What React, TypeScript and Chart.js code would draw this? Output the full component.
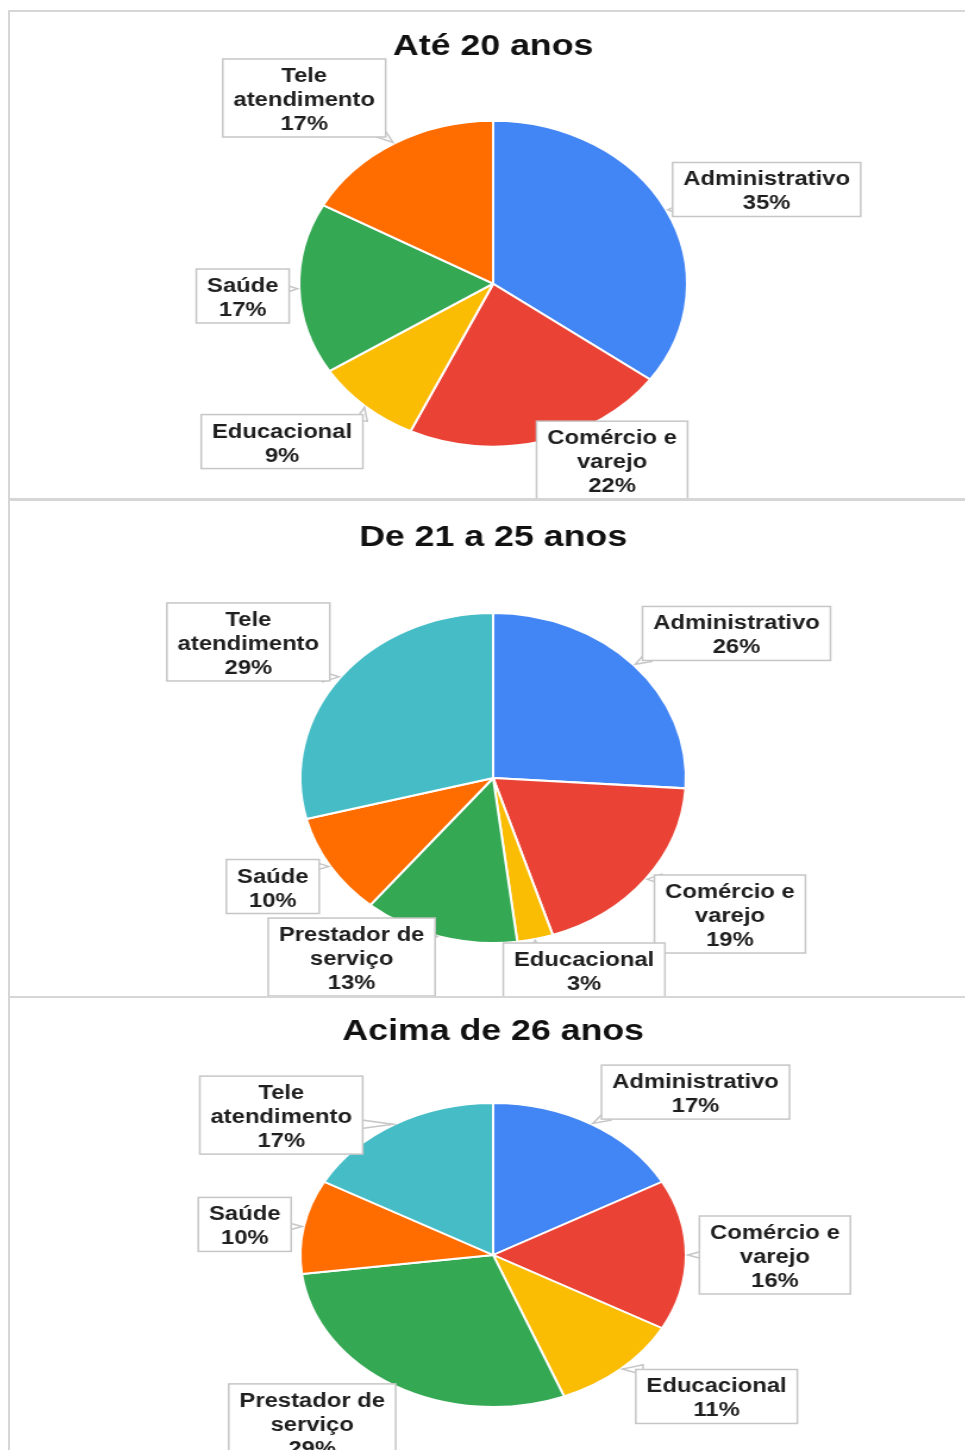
import React, { useEffect, useRef } from "react";
import { Chart, registerables } from "chart.js";

Chart.register(...registerables);

// ---------- data ----------
const TITLE_1 = "Até 20 anos";
const CATEGORIES_1 = ["Administrativo", "Comércio e varejo", "Educacional", "Saúde", "Tele atendimento"];
const VALUES_1 = [35, 22, 9, 17, 17];

const TITLE_2 = "De 21 a 25 anos";
const CATEGORIES_2 = ["Administrativo", "Comércio e varejo", "Educacional", "Prestador de serviço", "Saúde", "Tele atendimento"];
const VALUES_2 = [26, 19, 3, 13, 10, 29];

const TITLE_3 = "Acima de 26 anos";
const CATEGORIES_3 = ["Administrativo", "Comércio e varejo", "Educacional", "Prestador de serviço", "Saúde", "Tele atendimento"];
const VALUES_3 = [17, 16, 11, 29, 10, 17];

// ---------- styles ----------
const COLORS_1 = ["#4285F4", "#EA4335", "#FBBC04", "#34A853", "#FF6D01"];
const COLORS_2 = ["#4285F4", "#EA4335", "#FBBC04", "#34A853", "#FF6D01", "#46BDC6"];
const COLORS_3 = ["#4285F4", "#EA4335", "#FBBC04", "#34A853", "#FF6D01", "#46BDC6"];

const LINE_BREAKS: Record<string, string[]> = {
  "Comércio e varejo": ["Comércio e", "varejo"],
  "Tele atendimento": ["Tele", "atendimento"],
  "Prestador de serviço": ["Prestador de", "serviço"],
};

const FONT = '"Liberation Sans", Arial, Helvetica, sans-serif';
const STRETCH_X = 1.19;
const INNER_W = 802;

// callout box offsets (box centre relative to slice anchor)
const OFFSETS_1: [number, number][] = [[84.6, -20.2], [59.4, 18.6], [-69.6, 35.6], [-47.5, 7.2], [-75.8, -45.4]];
const OFFSETS_2: [number, number][] = [[86.4, -31.6], [71, 34.9], [41.1, 31], [-73.7, 20.6], [-48.4, 20.1], [-77.7, -34.9]];
const OFFSETS_3: [number, number][] = [[87.6, -32.1], [74.8, 0], [80.6, 27.5], [-69.6, 37.1], [-49.6, -2.1], [-95.6, -9.1]];

const ellipsePlugin = {
  id: "ellipse",
  beforeDatasetsDraw(chart: any, _a: any, opts: any) {
    const arc = chart.getDatasetMeta(0).data[0];
    const ctx = chart.ctx;
    ctx.save();
    if (!arc) return;
    ctx.translate(arc.x, arc.y);
    ctx.scale(1, opts.ky);
    ctx.translate(-arc.x, -arc.y);
  },
  afterDatasetsDraw(chart: any) {
    chart.ctx.restore();
  },
};

const calloutPlugin = {
  id: "callouts",
  afterDraw(chart: any, _a: any, opts: any) {
    const ctx = chart.ctx;
    const meta = chart.getDatasetMeta(0);
    const labels = chart.data.labels as string[];
    const values = chart.data.datasets[0].data as number[];
    const ky = opts.ky;
    ctx.save();
    ctx.font = `bold 20px ${FONT}`;
    meta.data.forEach((arc: any, i: number) => {
      const p = arc.getProps(["x", "y", "startAngle", "endAngle", "outerRadius"], true);
      const mid = (p.startAngle + p.endAngle) / 2;
      const ax = p.x + p.outerRadius * Math.cos(mid);
      const ay = p.y + p.outerRadius * ky * Math.sin(mid);
      const label = labels[i];
      const lines = [...(LINE_BREAKS[label] ?? [label]), `${values[i]}%`];
      const tw = Math.max(...lines.map((l) => ctx.measureText(l).width));
      const w = tw + 18;
      const h = lines.length * 24 + 6;
      const [dx, dy] = opts.offsets[i] || [0, 0];
      const cx = ax + dx;
      const cy = ay + dy;
      const left = cx - w / 2;
      const top = cy - h / 2;
      const inside = ax > left && ax < left + w && ay > top && ay < top + h;
      ctx.lineWidth = 1.5;
      ctx.strokeStyle = "#c6c6c6";
      ctx.fillStyle = "#ffffff";
      if (!inside) {
        const px = Math.min(Math.max(ax, left), left + w);
        const py = Math.min(Math.max(ay, top), top + h);
        let vx = ax - px;
        let vy = ay - py;
        const len = Math.hypot(vx, vy) || 1;
        vx /= len;
        vy /= len;
        const nx = -vy;
        const ny = vx;
        const bx = px - vx * 6;
        const by = py - vy * 6;
        ctx.beginPath();
        ctx.moveTo(bx + nx * 5, by + ny * 5);
        ctx.lineTo(ax - vx * 1.5, ay - vy * 1.5);
        ctx.lineTo(bx - nx * 5, by - ny * 5);
        ctx.closePath();
        ctx.fill();
        ctx.stroke();
      }
      ctx.fillStyle = "#ffffff";
      ctx.fillRect(left, top, w, h);
      ctx.strokeRect(left, top, w, h);
      ctx.fillStyle = "#1f1f1f";
      ctx.textAlign = "center";
      ctx.textBaseline = "alphabetic";
      lines.forEach((l, j) => {
        ctx.fillText(l, cx, top + 23 + j * 24);
      });
    });
    ctx.restore();
  },
};

type PanelCfg = {
  title: string;
  categories: string[];
  values: number[];
  colors: string[];
  offsets: [number, number][];
  top: number;
  canvasHeight: number;
  radius: number;
  ky: number;
  padTop: number;
  padBottom: number;
};

const PANELS: PanelCfg[] = [
  { title: TITLE_1, categories: CATEGORIES_1, values: VALUES_1, colors: COLORS_1, offsets: OFFSETS_1, top: 12, canvasHeight: 486, radius: 163, ky: 1.0, padTop: 7, padBottom: 5.6 },
  { title: TITLE_2, categories: CATEGORIES_2, values: VALUES_2, colors: COLORS_2, offsets: OFFSETS_2, top: 501, canvasHeight: 495, radius: 162, ky: 1.0185, padTop: 8.6, padBottom: 5.6 },
  { title: TITLE_3, categories: CATEGORIES_3, values: VALUES_3, colors: COLORS_3, offsets: OFFSETS_3, top: 998, canvasHeight: 470, radius: 162, ky: 0.938, padTop: 5.6, padBottom: 17.6 },
];

function PiePanel({ cfg }: { cfg: PanelCfg }) {
  const ref = useRef<HTMLCanvasElement>(null);
  useEffect(() => {
    const chart = new Chart(ref.current as HTMLCanvasElement, {
      type: "pie",
      data: {
        labels: cfg.categories,
        datasets: [
          {
            data: cfg.values,
            backgroundColor: cfg.colors,
            borderColor: "#ffffff",
            borderWidth: 2,
            clip: false as any,
          } as any,
        ],
      },
      options: {
        animation: false,
        responsive: true,
        maintainAspectRatio: false,
        events: [],
        radius: cfg.radius,
        layout: { padding: { top: cfg.padTop, bottom: cfg.padBottom, left: 10, right: 0 } },
        plugins: {
          legend: { display: false },
          tooltip: { enabled: false },
          title: {
            display: true,
            text: cfg.title,
            color: "#111111",
            font: { family: FONT, size: 30, weight: "bold" },
            padding: { top: 10, bottom: 10 },
          },
          ellipse: { ky: cfg.ky },
          callouts: { ky: cfg.ky, offsets: cfg.offsets },
        } as any,
      } as any,
      plugins: [ellipsePlugin, calloutPlugin],
    });
    return () => chart.destroy();
  }, []);
  return (
    <div
      style={{
        position: "absolute",
        left: 10,
        top: cfg.top,
        width: INNER_W,
        height: cfg.canvasHeight,
        transform: `scaleX(${STRETCH_X})`,
        transformOrigin: "0 0",
      }}
    >
      <canvas ref={ref} />
    </div>
  );
}

const LINE = "#d6d6d6";

export default function App() {
  return (
    <div
      style={{
        position: "absolute",
        left: 0,
        top: 0,
        width: 965,
        height: 1450,
        overflow: "hidden",
        background: "#ffffff",
      }}
    >
      {PANELS.map((p, i) => (
        <PiePanel key={i} cfg={p} />
      ))}
      <div style={{ position: "absolute", left: 8, top: 10, width: 2, height: 1440, background: LINE }} />
      <div style={{ position: "absolute", left: 8, top: 10, width: 957, height: 2, background: LINE }} />
      <div style={{ position: "absolute", left: 8, top: 498, width: 957, height: 3, background: LINE }} />
      <div style={{ position: "absolute", left: 8, top: 996, width: 957, height: 2, background: LINE }} />
    </div>
  );
}
